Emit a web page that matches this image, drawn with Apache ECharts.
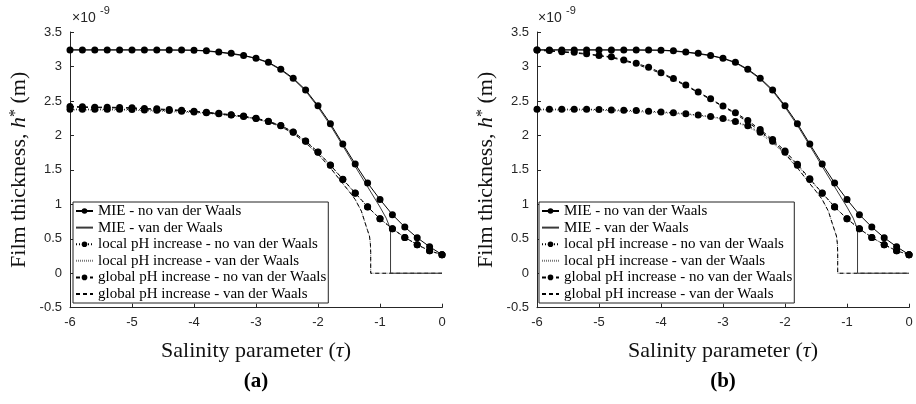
<!DOCTYPE html>
<html>
<head>
<meta charset="utf-8">
<script src="https://cdn.jsdelivr.net/npm/echarts@6/dist/echarts.min.js"></script>
<style>html,body{margin:0;padding:0;background:#fff}#c{width:916px;height:404px}</style>
</head>
<body>
<div id="c"></div>
<script>
// ---------- data (thickness in units of 1e-9 m) ----------
const tau = [-6, -5.8, -5.6, -5.4, -5.2, -5, -4.8, -4.6, -4.4, -4.2, -4, -3.8, -3.6, -3.4, -3.2, -3, -2.8, -2.6, -2.4, -2.2, -2, -1.8, -1.6, -1.4, -1.2, -1, -0.8, -0.6, -0.4, -0.2, 0];

const mieNoVdw = [3.24, 3.24, 3.24, 3.24, 3.24, 3.24, 3.24, 3.24, 3.24, 3.238, 3.236, 3.229, 3.209, 3.19, 3.16, 3.12, 3.06, 2.96, 2.83, 2.66, 2.43, 2.17, 1.875, 1.585, 1.31, 1.07, 0.85, 0.67, 0.515, 0.385, 0.27];

const mieVdwTau = [-6, -5, -4, -3.6, -3.2, -3, -2.8, -2.6, -2.4, -2.2, -2, -1.8, -1.6, -1.4, -1.2, -1, -0.9, -0.83, -0.83, 0];
const mieVdw    = [3.24, 3.24, 3.235, 3.206, 3.156, 3.115, 3.053, 2.95, 2.818, 2.645, 2.41, 2.145, 1.85, 1.55, 1.255, 0.96, 0.8, 0.64, 0, 0];

const localNoVdw = [2.38, 2.38, 2.38, 2.38, 2.38, 2.375, 2.37, 2.365, 2.36, 2.35, 2.34, 2.33, 2.315, 2.295, 2.275, 2.245, 2.2, 2.14, 2.045, 1.915, 1.755, 1.566, 1.36, 1.16, 0.962, 0.79, 0.645, 0.52, 0.415, 0.325, 0.27];

const localVdwTau = [-6, -5, -4, -3.6, -3.2, -3, -2.8, -2.6, -2.4, -2.2, -2, -1.8, -1.6, -1.5, -1.4, -1.3, -1.24, -1.2, -1.17, -1.155, -1.15, -1.15, 0];
const localVdw    = [2.37, 2.365, 2.33, 2.305, 2.265, 2.235, 2.19, 2.125, 2.025, 1.89, 1.725, 1.525, 1.3, 1.19, 1.07, 0.9, 0.73, 0.62, 0.54, 0.43, 0.3, 0, 0];

const globalNoVdwA = [2.42, 2.415, 2.41, 2.41, 2.405, 2.4, 2.39, 2.385, 2.375, 2.365, 2.35, 2.335, 2.32, 2.3, 2.28, 2.25, 2.205, 2.145, 2.05, 1.92, 1.76, 1.57, 1.365, 1.165, 0.965, 0.79, 0.645, 0.52, 0.415, 0.325, 0.27];

const globalVdwATau = [-6, -5, -4, -3.6, -3.2, -3, -2.8, -2.6, -2.4, -2.2, -2, -1.8, -1.6, -1.5, -1.4, -1.3, -1.24, -1.2, -1.17, -1.155, -1.15, -1.15, 0];
const globalVdwA    = [2.41, 2.395, 2.345, 2.31, 2.27, 2.24, 2.195, 2.13, 2.03, 1.895, 1.73, 1.53, 1.3, 1.19, 1.07, 0.9, 0.73, 0.62, 0.54, 0.43, 0.3, 0, 0];

const globalNoVdwB = [3.24, 3.233, 3.215, 3.205, 3.185, 3.16, 3.14, 3.095, 3.045, 2.99, 2.91, 2.825, 2.73, 2.63, 2.53, 2.425, 2.33, 2.215, 2.085, 1.94, 1.775, 1.58, 1.37, 1.165, 0.965, 0.79, 0.645, 0.52, 0.415, 0.325, 0.27];

const globalVdwBTau = [-6, -5.6, -5.2, -4.8, -4.4, -4, -3.6, -3.2, -2.8, -2.4, -2.2, -2, -1.8, -1.6, -1.5, -1.4, -1.3, -1.24, -1.2, -1.17, -1.155, -1.15, -1.15, 0];
const globalVdwB    = [3.235, 3.21, 3.178, 3.13, 3.035, 2.9, 2.72, 2.52, 2.315, 2.065, 1.915, 1.74, 1.53, 1.3, 1.19, 1.07, 0.9, 0.73, 0.62, 0.54, 0.43, 0.3, 0, 0];

const xTicks = [-6, -5, -4, -3, -2, -1, 0];
const yTicks = [-0.5, 0, 0.5, 1, 1.5, 2, 2.5, 3, 3.5];

const names = [
  'MIE - no van der Waals',
  'MIE - van der Waals',
  'local pH increase - no van der Waals',
  'local pH increase - van der Waals',
  'global pH increase - no van der Waals',
  'global pH increase - van der Waals'
];
const hasMarker = [true, false, true, false, true, false];

// ---------- helpers ----------
const pairs = (xs, ys) => xs.map((x, i) => [x, ys[i]]);
const serif = 'Liberation Serif';
const sans = 'Liberation Sans';
const axisColor = '#262626';

const lineStyles = [
  {color: '#000', width: 1, type: 'solid'},
  {color: '#3a3a3a', width: 1, type: 'solid'},
  {color: '#000', width: 1, type: [1, 2]},
  {color: '#777', width: 1, type: [1, 1]},
  {color: '#000', width: 1, type: [4, 3]},
  {color: '#000', width: 1, type: [4, 3]}
];

function mkSeries(idx, k, data) {
  const m = hasMarker[k];
  return {
    type: 'line', name: names[k], xAxisIndex: idx, yAxisIndex: idx,
    data: data, showSymbol: m, symbol: m ? 'circle' : 'none',
    symbolSize: 7, lineStyle: lineStyles[k], itemStyle: {color: '#000'},
    z: m ? 3 : 2, silent: true
  };
}

const panels = [
  {locNo: localNoVdw, locV: pairs(localVdwTau, localVdw), gloNo: globalNoVdwA, gloV: pairs(globalVdwATau, globalVdwA)},
  {locNo: localNoVdw, locV: pairs(localVdwTau, localVdw), gloNo: globalNoVdwB, gloV: pairs(globalVdwBTau, globalVdwB)}
];

const series = [];
panels.forEach((p, i) => {
  series.push(mkSeries(i, 3, p.locV));
  series.push(mkSeries(i, 5, p.gloV));
  series.push(mkSeries(i, 1, pairs(mieVdwTau, mieVdw)));
  series.push(mkSeries(i, 2, pairs(tau, p.locNo)));
  series.push(mkSeries(i, 4, pairs(tau, p.gloNo)));
  series.push(mkSeries(i, 0, pairs(tau, mieNoVdw)));
});

const grids = [
  {left: 70, right: 474, top: 32, bottom: 96.3},
  {left: 537, right: 7, top: 32, bottom: 96.3}
];

const xAxes = grids.map((g, i) => ({
  type: 'value', gridIndex: i, min: xTicks[0], max: xTicks[xTicks.length - 1], interval: 1,
  axisLine: {onZero: false, lineStyle: {color: axisColor, width: 1}},
  axisTick: {inside: true, length: 4, lineStyle: {color: axisColor}},
  axisLabel: {color: axisColor, fontFamily: sans, fontSize: 13, margin: 8},
  splitLine: {show: false},
  name: 'Salinity parameter ({t|τ})', nameLocation: 'middle', nameGap: 33,
  nameTextStyle: {fontFamily: serif, fontSize: 22, color: '#111',
    rich: {t: {fontFamily: serif, fontStyle: 'italic', fontSize: 22, color: '#111'}}}
}));

const yAxes = grids.map((g, i) => ({
  type: 'value', gridIndex: i, min: yTicks[0], max: yTicks[yTicks.length - 1], interval: 0.5,
  axisLine: {onZero: false, lineStyle: {color: axisColor, width: 1}},
  axisTick: {inside: true, length: 4, lineStyle: {color: axisColor}},
  axisLabel: {color: axisColor, fontFamily: sans, fontSize: 13, margin: 8},
  splitLine: {show: false},
  name: 'Film thickness, {i|h}{s|*} (m)', nameLocation: 'middle', nameGap: 40,
  nameTextStyle: {fontFamily: serif, fontSize: 22, color: '#111',
    rich: {i: {fontFamily: serif, fontStyle: 'italic', fontSize: 22, color: '#111'},
           s: {fontFamily: serif, fontSize: 16, color: '#111', verticalAlign: 'top'}}}
}));

const legendData = names.map((n, k) => hasMarker[k] ? {name: n} : {name: n, itemStyle: {opacity: 0}});

const legends = [73, 539].map(l => ({
  left: l, top: 202, orient: 'vertical', itemWidth: 17, itemHeight: 7, itemGap: 0.6,
  padding: [1, 2, 1, 2], borderColor: '#222', borderWidth: 1, backgroundColor: '#fff',
  selectedMode: false, data: legendData,
  textStyle: {fontFamily: serif, fontSize: 15, color: '#000', lineHeight: 16}
}));

const graphic = [];
[[72, 256, '(a)'], [538, 723, '(b)']].forEach(([xl, xc, lab]) => {
  graphic.push({type: 'text', left: xl, top: 11, style: {text: '×10', font: '14px ' + sans, fill: axisColor}});
  graphic.push({type: 'text', left: xl + 28, top: 5, style: {text: '-9', font: '11px ' + sans, fill: axisColor}});
  graphic.push({type: 'text', x: xc, y: 382, style: {text: lab, font: 'bold 21px ' + serif, fill: '#000', textAlign: 'center', textVerticalAlign: 'middle'}});
});

const chart = echarts.init(document.getElementById('c'), null, {renderer: 'canvas'});
chart.setOption({
  animation: false,
  backgroundColor: '#fff',
  grid: grids,
  xAxis: xAxes,
  yAxis: yAxes,
  legend: legends,
  series: series,
  graphic: graphic
});
</script>
</body>
</html>
